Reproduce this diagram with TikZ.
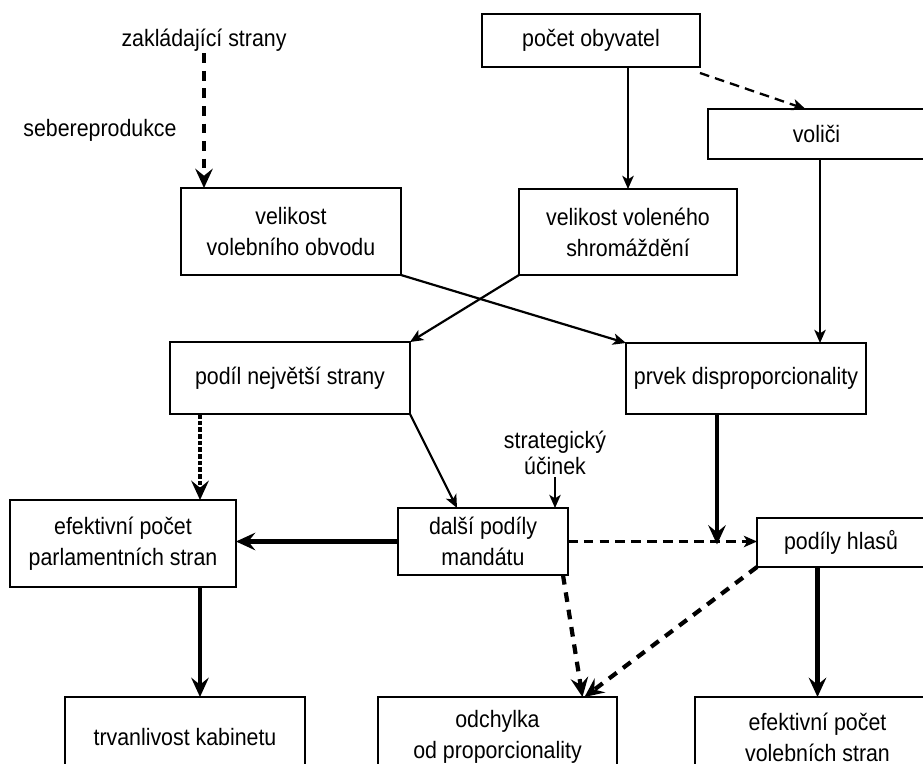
\documentclass[tikz,border=0pt]{standalone}
\usepackage{fontspec}
\setmainfont{Liberation Sans}[FakeStretch=0.9]
\usetikzlibrary{arrows.meta, positioning}

\begin{document}
\begin{tikzpicture}[x=0.02cm, y=-0.02cm, >={Stealth[length=7.5pt, width=6.5pt, inset=2pt]},
    box/.style={rectangle, draw, line width=0.9pt, inner sep=0pt, outer sep=0pt, align=center,
                font=\fontsize{13.5}{17.6}\selectfont},
    lbl/.style={align=center, inner sep=1pt, font=\fontsize{13.5}{15}\selectfont},
    arr/.style={->, line width=1.25pt},
    fatarr/.style={-{Stealth[length=11pt, width=10pt, inset=4pt]}, line width=2.4pt},
    dasharr/.style={->, line width=1.3pt, dash pattern=on 5.5pt off 3.5pt},
    fatdash/.style={-{Stealth[length=11pt, width=10pt, inset=4pt]}, line width=2.4pt, dash pattern=on 5.5pt off 4.5pt},
    densedash/.style={-{Stealth[length=11pt, width=10pt, inset=4pt]}, line width=2.4pt, dash pattern=on 2.6pt off 1.2pt}]
    \useasboundingbox (0,0) rectangle (923,764);

    % boxes
    \node[box, minimum width=4.36cm, minimum height=1.06cm] (obyv) at (591,40.5) {počet obyvatel};
    \node[box, minimum width=4.34cm, minimum height=1.0cm] (volici) at (816.5,134) {voliči};
    \node[box, minimum width=4.4cm, minimum height=1.74cm] (obvod) at (291,231.5) {velikost\\volebního obvodu};
    \node[box, minimum width=4.36cm, minimum height=1.72cm] (shrom) at (628,232) {velikost voleného\\shromáždění};
    \node[box, minimum width=4.8cm, minimum height=1.44cm] (podil) at (290,378) {podíl největší strany};
    \node[box, minimum width=4.8cm, minimum height=1.42cm] (prvek) at (746,378.5) {prvek disproporcionality};
    \node[box, minimum width=4.52cm, minimum height=1.74cm] (efpar) at (123,543.5) {efektivní počet\\parlamentních stran};
    \node[box, minimum width=3.4cm, minimum height=1.34cm] (dalsi) at (483,541.5) {další podíly\\mandátu};
    \node[box, minimum width=3.36cm, minimum height=0.98cm] (hlasy) at (841,542.5) {podíly hlasů};
    \node[box, minimum width=4.8cm, minimum height=1.6cm] (kabinet) at (185,737) {trvanlivost kabinetu};
    \node[box, minimum width=4.78cm, minimum height=1.6cm] (odchylka) at (497.5,737) {odchylka\\od proporcionality};
    \node[box, minimum width=4.9cm, minimum height=1.6cm] (efvol) at (817.5,737) {efektivní počet\\volebních stran};

    % free labels
    \node[lbl] (zaklad) at (204,40) {zakládající strany};
    \node[lbl] (sebe) at (100,130) {sebereprodukce};
    \node[lbl] (strat) at (555,453) {strategický\\účinek};
    \coordinate (odin) at ([xshift=1.7cm]odchylka.north);

    % connectors
    \draw[fatdash] (zaklad.south) -- (zaklad.south |- obvod.north);
    \draw[arr] (shrom.north |- obyv.south) -- (shrom.north);
    \draw[dasharr] ([yshift=-0.12cm]obyv.east |- obyv.south) -- ([xshift=-0.22cm]volici.north);
    \draw[arr] ([xshift=0.07cm]volici.south) -- ([xshift=0.07cm]volici.south |- prvek.north);
    \draw[arr] (obvod.south east) -- (prvek.north west);
    \draw[arr] (shrom.south west) -- (podil.north east);
    \draw[densedash] ([xshift=0.6cm]podil.south west) -- ([xshift=0.6cm]podil.south west |- efpar.north);
    \draw[arr] (podil.south east) -- ([xshift=-0.52cm]dalsi.north);
    \draw[->, line width=0.9pt] (strat.south) -- (strat.south |- dalsi.north);
    \draw[fatarr] (dalsi.west) -- (dalsi.west -| efpar.east);
    \draw[dasharr] (dalsi.east) -- (dalsi.east -| hlasy.west);
    \draw[fatarr] ([xshift=-0.58cm]prvek.south) -- ([xshift=-0.58cm, yshift=-0.06cm]prvek.south |- dalsi.east);
    \draw[fatarr] ([xshift=1.54cm]efpar.south) -- ([xshift=1.54cm]efpar.south |- kabinet.north);
    \draw[fatdash] ([xshift=1.6cm]dalsi.south) -- (odin);
    \draw[fatdash] (hlasy.south west) -- ([xshift=0.04cm]odin);
    \draw[fatarr] (hlasy.south -| efvol.north) -- (efvol.north);
\end{tikzpicture}
\end{document}
